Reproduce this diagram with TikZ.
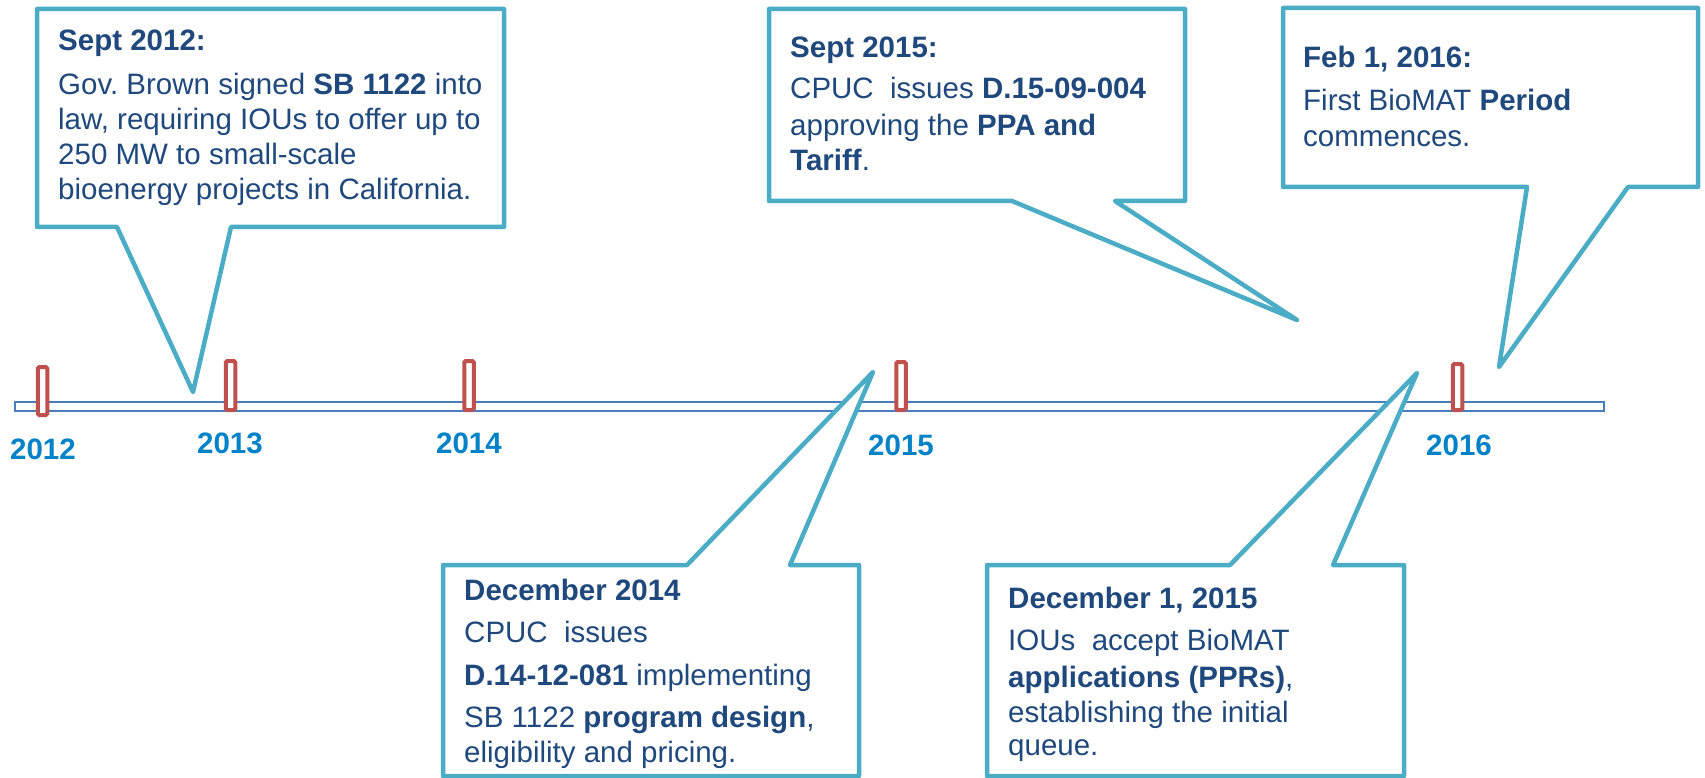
\documentclass[tikz,border=0pt]{standalone}
\usepackage{fontspec}
\setmainfont{Liberation Sans}
\usepackage{tikz}
\usetikzlibrary{positioning}
\definecolor{calloutblue}{RGB}{75,172,198}
\definecolor{textblue}{RGB}{31,73,125}
\definecolor{yearblue}{RGB}{0,130,200}
\definecolor{barblue}{RGB}{74,126,187}
\definecolor{tickred}{RGB}{192,80,77}
\tikzset{callout box/.style={draw=calloutblue,fill=white,line width=4.5pt,line join=round},
  event text/.style={anchor=base west,inner sep=0pt,align=left,text=textblue,font=\fontsize{29.5}{35}\selectfont},
  year tick/.style={draw=tickred,fill=white,line width=4pt,rounded corners=1.5pt,minimum width=9.5pt,inner sep=0pt},
  year label/.style={anchor=base,inner sep=0pt,text=yearblue,font=\fontsize{29.5}{35}\selectfont\bfseries},}

\begin{document}
\begin{tikzpicture}[x=1pt,y=-1pt]
	\useasboundingbox (0,0) rectangle (1705,778);

	% time line
	\node[draw=barblue, fill=white, line width=2pt, minimum width=1589pt, minimum height=9pt, inner sep=0pt, anchor=west] (timeline) at (14,406) {};

	\coordinate (tip12) at (193,392);
	\coordinate (tip15) at (1297,320);
	\coordinate (tip16) at (1499,367);
	\coordinate (tipdec14) at (873,372);
	\coordinate (tipdec15) at (1417,373);

	% callouts
	\draw[callout box] (37,9) -- (504,9) -- (504,227) -- (231,227) -- (tip12) -- (117,227) -- (37,227) -- cycle;
	\draw[callout box] (769,9) -- (1185,9) -- (1185,201) -- (1115,201) -- (tip15) -- (1012,201) -- (769,201) -- cycle;
	\draw[callout box] (1283,8) -- (1698,8) -- (1698,187) -- (1628,187) -- (tip16) -- (1527,187) -- (1283,187) -- cycle;
	\draw[callout box] (443,565) -- (687,565) -- (tipdec14) -- (790,565) -- (859,565) -- (859,776) -- (443,776) -- cycle;
	\draw[callout box] (987,565) -- (1230,565) -- (tipdec15) -- (1333,565) -- (1404,565) -- (1404,776) -- (987,776) -- cycle;

	% texts, placed at the baseline of their last line
	\node[event text] (sept12) at (58,200) {\textbf{Sept 2012:}\\[9pt]
		Gov.\ Brown signed \textbf{SB 1122} into\\
		law, requiring IOUs to offer up to\\
		250 MW to small-scale\\
		bioenergy projects in California.};
	\node[event text] (sept15) at (790,171) {\textbf{Sept 2015:}\\[6pt]
		CPUC~ issues \textbf{D.15-09-004}\\[2pt]
		approving the \textbf{PPA and}\\
		\textbf{Tariff}.};
	\node[event text] (feb16) at (1303,147) {\textbf{Feb 1, 2016:}\\[8pt]
		First BioMAT \textbf{Period}\\[1pt]
		commences.};
	\node[event text] (dec14) at (464,762) {\textbf{December 2014}\\[7pt]
		CPUC~ issues\\[8pt]
		\textbf{D.14-12-081} implementing\\[7pt]
		SB 1122 \textbf{program design},\\
		eligibility and pricing.};
	\node[event text] (dec15) at (1008,755) {\textbf{December 1, 2015}\\[7pt]
		IOUs~ accept BioMAT\\[2pt]
		\textbf{applications (PPRs)},\\
		establishing the initial\\[-2pt]
		queue.};

	% year marks
	\node[year tick, minimum height=48pt] (t2012) at (42.5,391) {};
	\node[year tick, minimum height=49pt] (t2013) at (230.5,385.5) {};
	\node[year tick, minimum height=49pt] (t2014) at (469,385.5) {};
	\node[year tick, minimum height=48pt] (t2015) at (901,386) {};
	\node[year tick, minimum height=46pt] (t2016) at (1457.5,387) {};

	\node[year label] (y2012) at (43,459) {2012};
	\node[year label] (y2013) at (230,453) {2013};
	\node[year label] (y2014) at (469,453) {2014};
	\node[year label] (y2015) at (901,455) {2015};
	\node[year label] (y2016) at (1459,455) {2016};
\end{tikzpicture}
\end{document}
